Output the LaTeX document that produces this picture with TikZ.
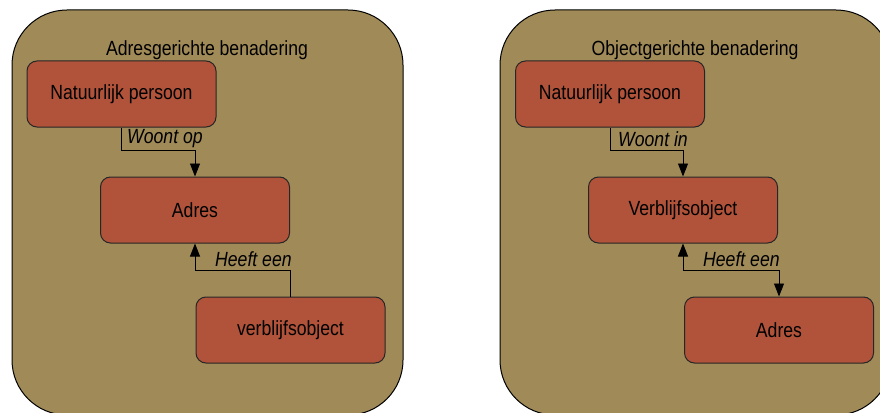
\documentclass[tikz,border=0pt]{standalone}
\usepackage{fontspec}
\setmainfont{Liberation Sans}[FakeStretch=0.86]
\usetikzlibrary{arrows.meta}
\definecolor{panelfill}{RGB}{160,138,88}
\definecolor{boxfill}{RGB}{176,83,58}
\begin{document}
\begin{tikzpicture}[x=1pt,y=-1pt,
  txt/.style={font=\fontsize{20.5}{24}\selectfont, inner sep=0pt},
  panel/.style={draw=black, line width=1pt, fill=panelfill, rounded corners=55pt},
  entity/.style={draw=black!85, line width=1pt, fill=boxfill, rounded corners=10pt,
    minimum width=189pt, minimum height=66pt, inner sep=0pt, txt},
  rel/.style={txt, font=\fontsize{20.5}{24}\selectfont\itshape, anchor=west},
  conn/.style={draw=black, line width=0.9pt, -{Triangle[length=13pt,width=10pt]}},
  conn2/.style={draw=black, line width=0.9pt, {Triangle[length=13pt,width=10pt]}-{Triangle[length=13pt,width=10pt]}}
]
\useasboundingbox (0,0) rectangle (880,412);
\begin{scope}
\clip (0,0) rectangle (880,412);
% left panel
\draw[panel] (12,10) rectangle (403,415);
% right panel
\draw[panel] (500,10) rectangle (891,415);
\end{scope}

% left side
\node[txt] (t1) at (207,50) {Adresgerichte benadering};
\node[entity] (np1) at (121.5,94) {Natuurlijk persoon};
\node[entity] (ad1) at (195,210) {Adres};
\node[entity] (vb1) at (290.5,330) {verblijfsobject};
\coordinate (b1) at (0,150);
\coordinate (b2) at (0,270);
\draw[conn] (np1.south) -- (np1.south |- b1) -| (ad1.north);
\draw[conn] (vb1.north) -- (vb1.north |- b2) -| (ad1.south);
\node[rel] (l1) at (127,139) {Woont op};
\node[rel] (l2) at (215,259) {Heeft een};

% right side
\node[txt] (t2) at (695,50) {Objectgerichte benadering};
\node[entity] (np2) at (610,94) {Natuurlijk persoon};
\node[entity] (vb2) at (683,210) {Verblijfsobject};
\node[entity] (ad2) at (779,330) {Adres};
\draw[conn] (np2.south) -- (np2.south |- b1) -| (vb2.north);
\draw[conn2] (vb2.south) |- (b2 -| ad2.north) -- (ad2.north);
\node[rel] (l3) at (618,139) {Woont in};
\node[rel] (l4) at (703,259) {Heeft een};
\end{tikzpicture}
\end{document}
